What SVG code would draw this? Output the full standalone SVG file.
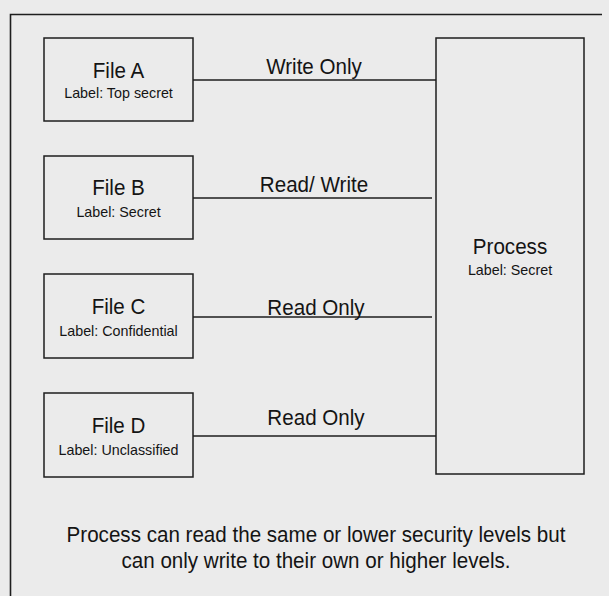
<svg xmlns="http://www.w3.org/2000/svg" width="609" height="596" viewBox="0 0 609 596">
<style>
.bg{fill:#ebebeb}
.box{fill:#ebebeb;stroke:#1e1e1e;stroke-width:1.5}
.ln{stroke:#1e1e1e;stroke-width:1.6;fill:none}
text{font-family:"Liberation Sans",Arial,sans-serif;fill:#141414;text-anchor:middle}
.big{font-size:20.6px}
.sm{font-size:14.3px}
</style>
<rect class="bg" x="0" y="0" width="609" height="596"/>
<path class="ln" d="M602,14.5 H10.5 V596"/>
<g id="fileA">
<rect class="box" x="44" y="38" width="149" height="83"/>
<text class="big" transform="translate(118.5,78) scale(1,1.1)">File A</text>
<text class="sm" x="118.5" y="98">Label: Top secret</text>
</g>
<g id="fileB">
<rect class="box" x="44" y="156" width="149" height="83"/>
<text class="big" transform="translate(118.5,195) scale(1,1.1)">File B</text>
<text class="sm" x="118.5" y="217">Label: Secret</text>
</g>
<g id="fileC">
<rect class="box" x="44" y="274" width="149" height="84"/>
<text class="big" transform="translate(118.5,314) scale(1,1.1)">File C</text>
<text class="sm" x="118.5" y="336">Label: Confidential</text>
</g>
<g id="fileD">
<rect class="box" x="44" y="393" width="149" height="84"/>
<text class="big" transform="translate(118.5,433) scale(1,1.1)">File D</text>
<text class="sm" x="118.5" y="455">Label: Unclassified</text>
</g>
<g id="process">
<rect class="box" x="436" y="38" width="148" height="436"/>
<text class="big" transform="translate(510,254) scale(1,1.1)">Process</text>
<text class="sm" x="510" y="275">Label: Secret</text>
</g>
<g id="connectors">
<line class="ln" x1="193" y1="80" x2="436" y2="80"/>
<line class="ln" x1="193" y1="198" x2="432" y2="198"/>
<line class="ln" x1="193" y1="317" x2="432" y2="317"/>
<line class="ln" x1="193" y1="436" x2="436" y2="436"/>
<text class="big" transform="translate(314,74) scale(1,1.1)">Write Only</text>
<text class="big" transform="translate(314,192) scale(1,1.1)">Read/ Write</text>
<text class="big" transform="translate(316,315) scale(1,1.1)">Read Only</text>
<text class="big" transform="translate(316,425) scale(1,1.1)">Read Only</text>
</g>
<g id="note">
<text class="big" transform="translate(316,542) scale(1,1.1)">Process can read the same or lower security levels but</text>
<text class="big" transform="translate(316,568) scale(1,1.1)">can only write to their own or higher levels.</text>
</g>
</svg>
